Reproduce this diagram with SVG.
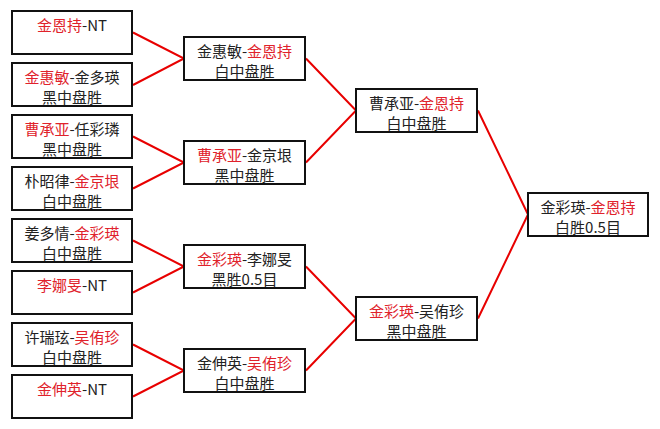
<svg xmlns="http://www.w3.org/2000/svg" width="660" height="429" viewBox="0 0 660 429">
<style>
.box{fill:#fff;stroke:#111;stroke-width:2}
.t{font-family:"Noto Sans CJK SC","Liberation Sans",sans-serif;font-size:15px;fill:#222;text-anchor:middle}
.r{fill:#e0222b}
.ln{stroke:#e80000;stroke-width:2;fill:none}
</style>
<rect width="660" height="429" fill="#fff"/>
<g id="connectors">
<path class="ln" d="M133,32.5 L184,58.5 L133,85"/>
<path class="ln" d="M133,136.5 L184,162.5 L133,188.5"/>
<path class="ln" d="M133,240.5 L184,266.5 L133,292.5"/>
<path class="ln" d="M133,344.5 L184,370.5 L133,396.5"/>
<path class="ln" d="M306,58.5 L356,110.5 L306,162.5"/>
<path class="ln" d="M306,266.5 L356,318.5 L306,370.5"/>
<path class="ln" d="M478,110.5 L528,214.5 L478,318.5"/>
</g>
<g id="r1-1"><rect class="box" x="12" y="11" width="120" height="43"/><text class="t" x="72" y="30.5"><tspan class="r">金恩持</tspan>-NT</text></g>
<g id="r1-2"><rect class="box" x="12" y="63" width="120" height="43"/><text class="t" x="72" y="82.5"><tspan class="r">金惠敏</tspan>-金多瑛</text><text class="t" x="72" y="102.5">黑中盘胜</text></g>
<g id="r1-3"><rect class="box" x="12" y="115" width="120" height="43"/><text class="t" x="72" y="134.5"><tspan class="r">曹承亚</tspan>-任彩璘</text><text class="t" x="72" y="154.5">黑中盘胜</text></g>
<g id="r1-4"><rect class="box" x="12" y="167" width="120" height="43"/><text class="t" x="72" y="186.5">朴昭律-<tspan class="r">金京垠</tspan></text><text class="t" x="72" y="206.5">白中盘胜</text></g>
<g id="r1-5"><rect class="box" x="12" y="219" width="120" height="43"/><text class="t" x="72" y="238.5">姜多情-<tspan class="r">金彩瑛</tspan></text><text class="t" x="72" y="258.5">白中盘胜</text></g>
<g id="r1-6"><rect class="box" x="12" y="271" width="120" height="43"/><text class="t" x="72" y="290.5"><tspan class="r">李娜旻</tspan>-NT</text></g>
<g id="r1-7"><rect class="box" x="12" y="323" width="120" height="43"/><text class="t" x="72" y="342.5">许瑞玹-<tspan class="r">吴侑珍</tspan></text><text class="t" x="72" y="362.5">白中盘胜</text></g>
<g id="r1-8"><rect class="box" x="12" y="375" width="120" height="43"/><text class="t" x="72" y="394.5"><tspan class="r">金伸英</tspan>-NT</text></g>
<g id="r2-1"><rect class="box" x="184" y="37" width="121" height="43"/><text class="t" x="244.5" y="56.5">金惠敏-<tspan class="r">金恩持</tspan></text><text class="t" x="244.5" y="76.5">白中盘胜</text></g>
<g id="r2-2"><rect class="box" x="184" y="141" width="121" height="43"/><text class="t" x="244.5" y="160.5"><tspan class="r">曹承亚</tspan>-金京垠</text><text class="t" x="244.5" y="180.5">黑中盘胜</text></g>
<g id="r2-3"><rect class="box" x="184" y="245" width="121" height="43"/><text class="t" x="244.5" y="264.5"><tspan class="r">金彩瑛</tspan>-李娜旻</text><text class="t" x="244.5" y="284.5">黑胜0.5目</text></g>
<g id="r2-4"><rect class="box" x="184" y="349" width="121" height="43"/><text class="t" x="244.5" y="368.5">金伸英-<tspan class="r">吴侑珍</tspan></text><text class="t" x="244.5" y="388.5">白中盘胜</text></g>
<g id="r3-1"><rect class="box" x="356" y="89" width="121" height="43"/><text class="t" x="416.5" y="108.5">曹承亚-<tspan class="r">金恩持</tspan></text><text class="t" x="416.5" y="128.5">白中盘胜</text></g>
<g id="r3-2"><rect class="box" x="356" y="297" width="121" height="43"/><text class="t" x="416.5" y="316.5"><tspan class="r">金彩瑛</tspan>-吴侑珍</text><text class="t" x="416.5" y="336.5">黑中盘胜</text></g>
<g id="final"><rect class="box" x="528" y="193" width="120" height="43"/><text class="t" x="588" y="212.5">金彩瑛-<tspan class="r">金恩持</tspan></text><text class="t" x="588" y="232.5">白胜0.5目</text></g>
</svg>
